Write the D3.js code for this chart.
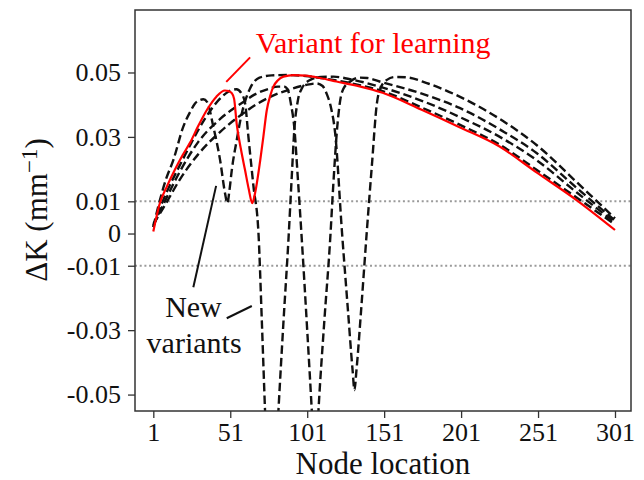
<!DOCTYPE html>
<html>
<head>
<meta charset="utf-8">
<script src="https://cdn.jsdelivr.net/npm/d3@7"></script>
<style>
  html, body { margin: 0; padding: 0; background: #fff; }
  svg { display: block; }
  text { font-family: "Liberation Serif", "Times New Roman", "DejaVu Serif", serif; }
</style>
</head>
<body>
<svg id="chart" width="644" height="480"></svg>
<script>
// ---- data ---------------------------------------------------------------
const xTicks = [1, 51, 101, 151, 201, 251, 301];
const yTicks = [0.05, 0.03, 0.01, 0, -0.01, -0.03, -0.05];
const guideLevels = [0.01, -0.01];

// [node, ΔK] pairs
const learningVariant = [
  [1,0.0006],[5,0.009],[10,0.0148],[15,0.0198],[20,0.0243],[25,0.0283],[30,0.0332],
  [36,0.0385],[42,0.0425],[47.5,0.0444],[50,0.0442],[52,0.0436],[53.5,0.0418],
  [55.2,0.034],[58,0.026],[60.6,0.0197],[63,0.0138],[65.3,0.0094],[67.1,0.0125],
  [70.4,0.0225],[72.5,0.03],[74.7,0.0382],[77,0.0428],[79,0.0456],[82,0.0476],
  [85.5,0.0487],[92,0.0492],[100,0.049],[110,0.0482],[120,0.0472],[135,0.0457],
  [150,0.0437],[175,0.0385],[200,0.033],[226,0.027],[250,0.019],[276,0.0104],[301,0.0011]
];
const newVariantA = [
  [1,0.002],[4,0.008],[9,0.0165],[14,0.0228],[20.5,0.0332],[25,0.0378],[28.1,0.0404],
  [31,0.0414],[33.5,0.0417],[36,0.0408],[40,0.0332],[44.4,0.0228],[47.6,0.0125],
  [49.1,0.0094],[50.5,0.0135],[52,0.0197],[55.2,0.029],[58.5,0.0373],[60.6,0.041],
  [64,0.0452],[70,0.0484],[78,0.0491],[88,0.0492],[100,0.0489],[110,0.0483],[120,0.0475],
  [135,0.0461],[150,0.0442],[175,0.0392],[200,0.0338],[226,0.0276],[250,0.0198],
  [276,0.0112],[301,0.0028]
];
const newVariantB = [
  [1,0.002],[5,0.0075],[10,0.0132],[18,0.021],[25,0.0275],[35,0.036],[45,0.0422],
  [50,0.0441],[55,0.0448],[58,0.0437],[60.6,0.0405],[62.8,0.03],[66,0.015],[69.4,-0.0005],
  [71.5,-0.027],[73.6,-0.055],[77.5,-0.1],[82.3,-0.055],[85.5,-0.028],[88.8,-0.002],
  [91,0.018],[92.6,0.032],[95,0.0415],[97.5,0.045],[103,0.0477],[110,0.0486],[118,0.0487],
  [130,0.0478],[148,0.0456],[175,0.0413],[200,0.0362],[228,0.0295],[250,0.0228],
  [276,0.0128],[301,0.0034]
];
const newVariantC = [
  [1,0.0025],[5,0.0065],[10,0.0115],[18,0.019],[30,0.0283],[45,0.0358],[60,0.041],
  [67,0.0432],[76,0.0449],[82,0.0456],[86,0.0456],[88.5,0.0445],[90.5,0.04],[92.5,0.0335],
  [95,0.0165],[97.5,-0.002],[101,-0.03],[104,-0.0551],[106.2,-0.075],[108.3,-0.0551],
  [112,-0.028],[115.9,-0.002],[118,0.0155],[120.5,0.033],[122.5,0.0415],[124.6,0.045],
  [129,0.0472],[135,0.0484],[140,0.0483],[148,0.0472],[175,0.0435],[200,0.039],
  [228,0.0318],[250,0.025],[276,0.0142],[301,0.004]
];
const newVariantD = [
  [1,0.003],[5,0.006],[10,0.01],[18,0.0166],[30,0.0245],[45,0.0318],[60,0.0375],
  [67,0.0398],[76,0.0422],[90,0.0448],[100,0.0461],[107,0.0466],[111,0.0458],
  [113.8,0.0432],[116.5,0.039],[119.2,0.031],[123.5,0.0011],[127.5,-0.024],
  [130.5,-0.0425],[131.7,-0.0486],[133,-0.0425],[136,-0.024],[139.8,0.0011],[143,0.021],
  [146.3,0.0405],[149,0.0455],[152.8,0.0477],[158,0.0486],[165,0.0485],[180,0.0465],
  [200,0.0425],[228,0.035],[250,0.0275],[276,0.016],[301,0.0047]
];
const newVariants = [newVariantA, newVariantB, newVariantC, newVariantD];

// ---- layout -------------------------------------------------------------
const plot = { left: 135, right: 631, top: 10, bottom: 411 };
const svg = d3.select("#chart");

const x = d3.scaleLinear().domain([-10.9, 311.4]).range([plot.left, plot.right]);
const y = d3.scaleLinear().domain([-0.0551, 0.0694]).range([plot.bottom, plot.top]);

svg.append("defs").append("clipPath").attr("id", "plot-clip")
  .append("rect")
  .attr("x", plot.left).attr("y", plot.top)
  .attr("width", plot.right - plot.left).attr("height", plot.bottom - plot.top);

// dotted reference levels
svg.append("g").selectAll("line").data(guideLevels).join("line")
  .attr("x1", plot.left).attr("x2", plot.right)
  .attr("y1", d => y(d)).attr("y2", d => y(d))
  .attr("stroke", "#9a9a9a").attr("stroke-width", 2)
  .attr("stroke-dasharray", "2,2.7");

const line = d3.line()
  .x(d => x(d[0])).y(d => y(d[1]))
  .curve(d3.curveMonotoneX);

const curves = svg.append("g").attr("clip-path", "url(#plot-clip)");

curves.selectAll("path.variant").data(newVariants).join("path")
  .attr("class", "variant")
  .attr("d", line)
  .attr("fill", "none")
  .attr("stroke", "#111")
  .attr("stroke-width", 2.4)
  .attr("stroke-dasharray", "8.5,4");

curves.append("path")
  .datum(learningVariant)
  .attr("d", line)
  .attr("fill", "none")
  .attr("stroke", "#ff0000")
  .attr("stroke-width", 2.2);

// ---- axes ---------------------------------------------------------------
const xAxis = svg.append("g")
  .attr("transform", `translate(0,${plot.bottom})`)
  .call(d3.axisBottom(x).tickValues(xTicks).tickSize(7).tickPadding(5).tickFormat(d3.format("d")));
const yAxis = svg.append("g")
  .attr("transform", `translate(${plot.left},0)`)
  .call(d3.axisLeft(y).tickValues(yTicks).tickSize(7).tickPadding(7)
    .tickFormat(d => d === 0 ? "0" : d.toFixed(2)));

[xAxis, yAxis].forEach(g => {
  g.select(".domain").remove();
  g.selectAll(".tick line").attr("stroke", "#333").attr("stroke-width", 1.3);
  g.selectAll(".tick text")
    .attr("fill", "#111")
    .style("font-family", '"Liberation Serif", "Times New Roman", serif')
    .style("font-size", "26px");
});

// frame
svg.append("rect")
  .attr("x", plot.left).attr("y", plot.top)
  .attr("width", plot.right - plot.left).attr("height", plot.bottom - plot.top)
  .attr("fill", "none").attr("stroke", "#333").attr("stroke-width", 1.5);

// axis titles
svg.append("text")
  .attr("x", (plot.left + plot.right) / 2).attr("y", 474)
  .attr("text-anchor", "middle")
  .attr("fill", "#111")
  .style("font-size", "31px")
  .text("Node location");

const yTitle = svg.append("text")
  .attr("transform", "translate(47,210) rotate(-90)")
  .attr("text-anchor", "middle")
  .attr("fill", "#111")
  .style("font-size", "31px");
yTitle.append("tspan").text("ΔK (mm");
yTitle.append("tspan").attr("dy", "-0.42em").style("font-size", "23px").text("−1");
yTitle.append("tspan").attr("dy", "0.31em").text(")");

// ---- annotations (positioned in data units) ----------------------------
const pointers = [
  { from: [48.4, 0.0471], to: [63.9, 0.0547], color: "#ff0000" },
  { from: [27, -0.0167], to: [41.8, 0.0148], color: "#111" },
  { from: [48.7, -0.0263], to: [65, -0.0225], color: "#111" }
];
svg.append("g").selectAll("line").data(pointers).join("line")
  .attr("x1", d => x(d.from[0])).attr("y1", d => y(d.from[1]))
  .attr("x2", d => x(d.to[0])).attr("y2", d => y(d.to[1]))
  .attr("stroke", d => d.color).attr("stroke-width", 2);

const labels = [
  { text: "Variant for learning", at: [67.5, 0.056], anchor: "start", color: "#ff0000" },
  { text: "New", at: [27.1, -0.0259], anchor: "middle", color: "#111" },
  { text: "variants", at: [27.5, -0.0371], anchor: "middle", color: "#111" }
];
svg.append("g").selectAll("text").data(labels).join("text")
  .attr("x", d => x(d.at[0])).attr("y", d => y(d.at[1]))
  .attr("text-anchor", d => d.anchor)
  .attr("fill", d => d.color)
  .style("font-size", "30px")
  .text(d => d.text);
</script>
</body>
</html>
